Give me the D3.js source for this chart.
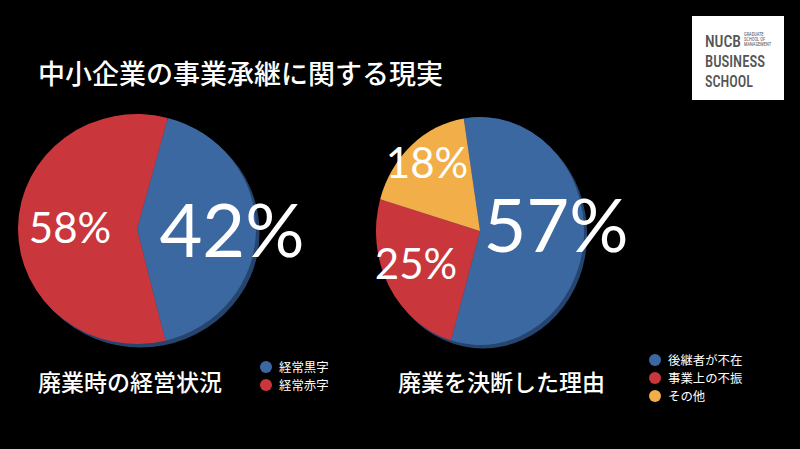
<!DOCTYPE html><html><head><meta charset="utf-8"><script src="https://cdn.jsdelivr.net/npm/d3@7"></script>
<style>body{margin:0;background:#000}</style></head><body><svg id="c" width="800" height="449"></svg>
<script>
const leftCats=["経常黒字","経常赤字"], leftVals=[42,58];
const rightCats=["後継者が不在","事業上の不振","その他"], rightVals=[57,25,18];
const leftColors=["#3c68a2","#c9363c"], rightColors=["#3c68a2","#c9363c","#f2ae48"];
const svg=d3.select("#c");
svg.append("rect").attr("width",800).attr("height",449).attr("fill","#000");
const jp="'Noto Sans CJK JP',sans-serif";
svg.append("text").attr("x",38).attr("y",84).attr("fill","#fff").attr("font-family",jp).attr("font-size",27).attr("font-weight",500).text("中小企業の事業承継に関する現実");
svg.append("rect").attr("x",692).attr("y",16).attr("width",92).attr("height",84).attr("fill","#fff");
const lg=svg.append("g").attr("font-family","'Roboto Condensed','Liberation Sans Narrow','DejaVu Sans Condensed',sans-serif").attr("fill","#555");
[["NUCB",47,36],["BUSINESS",67,60],["SCHOOL",87,48]].forEach(([t,y,w])=>lg.append("text").attr("x",705).attr("y",y).attr("font-size",17).attr("font-weight",500).attr("textLength",w).attr("lengthAdjust","spacingAndGlyphs").text(t));
["GRADUATE","SCHOOL OF","MANAGEMENT"].forEach((t,i)=>lg.append("text").attr("x",744).attr("y",36+i*5).attr("font-size",4.5).text(t));

function pie(cx,cy,rx,ry,vals,colors,startDeg){
  const p=d3.pie().sort(null).startAngle(startDeg*Math.PI/180).endAngle(startDeg*Math.PI/180+2*Math.PI)(vals);
  const g=svg.append("g").attr("transform",`translate(${cx},${cy}) scale(${rx/100},${ry/100})`);
  g.append("ellipse").attr("cx",3).attr("cy",3).attr("rx",100).attr("ry",100).attr("fill","#25446e");
  g.selectAll("path").data(p).join("path").attr("d",d3.arc().innerRadius(0).outerRadius(100)).attr("fill",(d,i)=>colors[i]);
}
pie(137,229,119,115,leftVals,leftColors,15);
pie(480,231,104,114,rightVals,rightColors,-9);
const pf="'Lato','Open Sans',sans-serif";
function lab(x,y,s,t){svg.append("text").attr("x",x).attr("y",y).attr("fill","#fff").attr("font-family",pf).attr("font-weight",400).attr("font-size",s).attr("text-anchor","middle").text(t);}
lab(232,257,74,leftVals[0]+"%");
lab(70,243,42,leftVals[1]+"%");
lab(556,252,74,rightVals[0]+"%");
lab(416,279,42,rightVals[1]+"%");
lab(427,178,42,rightVals[2]+"%");
function title(x,t){svg.append("text").attr("x",x).attr("y",391).attr("fill","#fff").attr("font-family",jp).attr("font-size",23).attr("font-weight",500).text(t);}
title(38,"廃業時の経営状況");title(398,"廃業を決断した理由");
function legend(x,y0,cats,colors){cats.forEach((c,i)=>{const y=y0+i*18;
  svg.append("circle").attr("cx",x).attr("cy",y).attr("r",6).attr("fill",colors[i]);
  svg.append("text").attr("x",x+13).attr("y",y+5).attr("fill","#fff").attr("font-family",jp).attr("font-size",12.4).text(c);});}
legend(266,367,leftCats,leftColors);
legend(655,360,rightCats,rightColors);
</script></body></html>
